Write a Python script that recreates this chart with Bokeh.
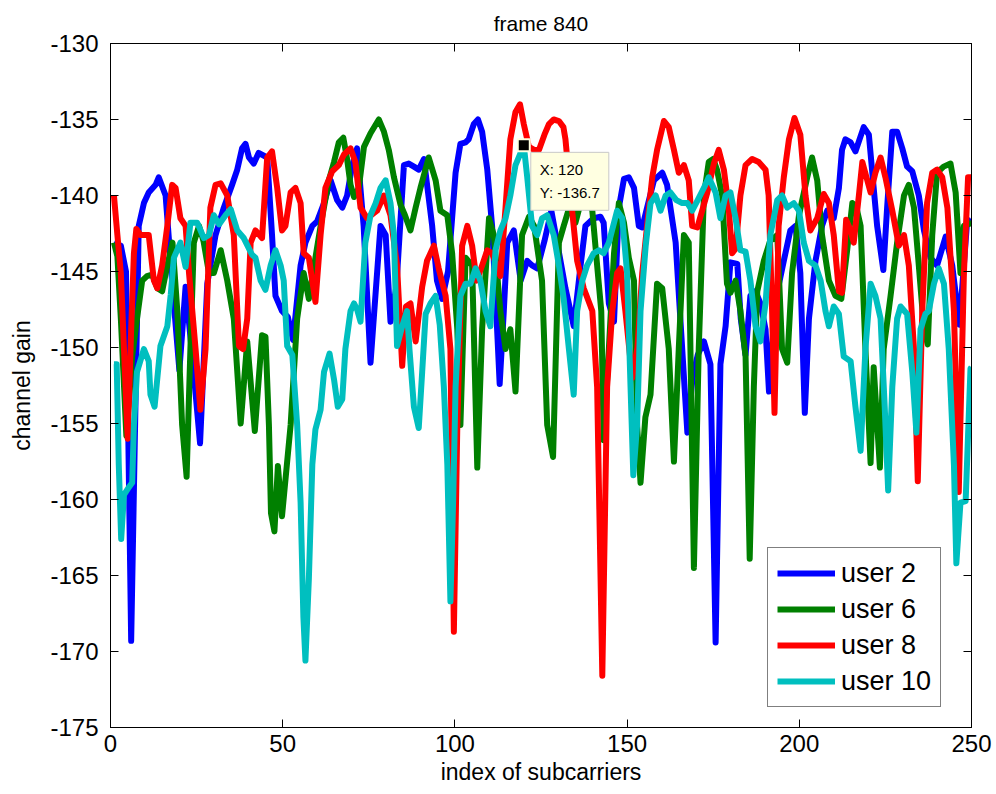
from bokeh.plotting import figure
from bokeh.models import (ColumnDataSource, FixedTicker, LinearAxis, Label, Range1d, CustomJSTickFormatter)
from bokeh.embed import file_html
from bokeh.resources import INLINE

# ---------------- data ----------------
title_text = "frame 840"
x_label = "index of subcarriers"
y_label = "channel gain"
x_ticks = [0, 50, 100, 150, 200, 250]
y_ticks = [-175, -170, -165, -160, -155, -150, -145, -140, -135, -130]

series_names = ["user 2", "user 6", "user 8", "user 10"]
series_colors = ["#0000FF", "#008000", "#FF0000", "#00BFBF"]

user2 = [(1,-143.1),(3,-143.3),(4.5,-145),(6,-169.3),(8.2,-142),(9.7,-140.5),(11.1,-139.8),(13.1,-139.3),
         (14,-138.8),(16,-140),(18,-146),(20,-151.5),(21.8,-146),(23.5,-150),(26,-156.3),(28.1,-145.8),
         (30.5,-142.6),(32.9,-140.8),(35.3,-139.3),(36.8,-138.3),(38.2,-136.9),(39.2,-136.6),(40.2,-137.5),
         (41.6,-137.9),(43,-137.2),(45.5,-137.5),(46.9,-142.6),(47.9,-146.6),(49.8,-147.6),(51.5,-148),
         (53,-149.5),(55.2,-144.6),(56.6,-143.1),(58.6,-142),(60,-141.7),(62,-140.5),(63.9,-139),(65.8,-140.3),
         (67.3,-140.8),(68.7,-140),(70.2,-138),(71.6,-136.9),(73.5,-142),(75.5,-151),(78.4,-142),(79.9,-142.6),
         (81.3,-148.3),(83,-146),(85.2,-138),(86.6,-137.9),(88.1,-138.1),(89.5,-138.3),(91,-137.6),(93.4,-142),
         (94.8,-145.6),(96.3,-146.8),(98,-145),(100.2,-138.5),(101.6,-136.6),(103.1,-136.5),(104,-136.3),
         (105.5,-135.3),(106.7,-135),(107.9,-135.8),(109.4,-138.3),(110.8,-142),(111.8,-146.6),(113,-152.4),
         (114.2,-147.6),(115.2,-143.1),(117.1,-142.3),(119.1,-145.6),(121,-144.3),(122.4,-144.6),(123.9,-144.8),
         (126,-143),(128,-141),(129.7,-143.1),(132.1,-146.1),(134.5,-148.6),(136.5,-144.6),(137.9,-142),
         (140.3,-141.5),(142.3,-141.4),(143.2,-141.8),(144.7,-147.1),(146.2,-148.3),(147.6,-140.8),(149.1,-138.9),
         (150.5,-138.8),(152,-139.5),(153.4,-142),(154.4,-142.1),(155.8,-140.8),(157.8,-139),(160.2,-138.5),
         (161.6,-139.3),(164.1,-143.1),(166,-150.1),(167.5,-155.6),(169,-152),(170.5,-150.5),(172.3,-149.6),
         (174.2,-151.1),(175.7,-169.4),(177.1,-151.1),(178.6,-148.6),(180,-144.4),(182,-144.5),(183,-148.1),
         (184.4,-150.5),(185.8,-146.6),(187.3,-146.3),(188.7,-147.1),(190.2,-148.8),(191.2,-152.9),(193,-147),
         (195.5,-144.3),(197.4,-142.3),(198.9,-142),(200.3,-145.1),(201.6,-154.3),(202.8,-148.1),(204.7,-144.3),
         (206.6,-142),(208.1,-141),(210,-141.5),(211.5,-139.5),(212.4,-137),(213.4,-136.3),(214.9,-136.5),
         (216.3,-137.1),(218.7,-135.5),(220.2,-136),(222.6,-142),(224.4,-144.9),(225.5,-140.8),(227,-135.8),
         (228.4,-135.8),(229.9,-136.9),(231.3,-138.1),(232.8,-138.4),(234.7,-140),(236.2,-142.3),(238.1,-144.1),
         (240,-144.6),(242.5,-142.7),(244.4,-144.6),(246.5,-148.5),(248.7,-141.8),(250,-141.6)]

user6 = [(1,-143.1),(2,-144),(3,-148.1),(4.6,-155.8),(6.3,-150.6),(7.7,-148.1),(9.2,-145.6),(10.6,-145.3),
         (12.1,-145.2),(13.6,-146.1),(15,-146.3),(16.5,-144.6),(18,-143.1),(19.4,-147.6),(20.8,-155.1),
         (22.1,-158.5),(23.2,-150.1),(24.2,-143.1),(25.7,-142),(27,-143),(28.6,-145.1),(30,-145.1),(32,-143.6),
         (33.9,-145.6),(35.8,-148.1),(37.8,-155),(39.7,-149.6),(41.9,-155.5),(44,-149.2),(45,-149.3),(46,-155.1),
         (46.6,-160.9),(47.6,-162.1),(48.6,-157.8),(49.8,-161.1),(52.3,-155.1),(54.2,-148.1),(56.1,-145.1),
         (57.6,-146.8),(59,-144.8),(61,-142),(63.4,-139),(64.9,-137.8),(66.3,-136.5),(67.6,-136.2),(68.7,-137.6),
         (69.7,-139.3),(70.7,-140.1),(72.1,-139.5),(73.6,-136.8),(75.5,-135.9),(77.9,-135),(79.4,-135.8),
         (80.8,-137),(82.3,-138.8),(84.2,-140.6),(85.5,-141.3),(87.1,-142.3),(88.6,-140.8),(90,-139.5),
         (92.4,-137.5),(94.4,-139),(95.8,-141),(97.8,-141.3),(99.2,-143.8),(100.7,-148.8),(101.6,-155.1),
         (103.1,-144.1),(105,-144.6),(106.5,-157.9),(107.9,-148.8),(109.9,-141.5),(111.3,-142.6),(113.2,-147.6),
         (114.7,-150.1),(116.1,-148.8),(117.6,-152.9),(119.5,-142.6),(121.5,-141.4),(123,-142),(125.3,-145.6),
         (126.8,-155.1),(128.5,-157.2),(130.2,-143.1),(131.6,-142),(133.6,-140.5),(135,-141.8),(136.5,-140.5),
         (138.4,-140.3),(139.9,-141),(141.3,-144.6),(142.5,-147.6),(143.2,-156.1),(144.7,-150.1),(146.2,-143.8),
         (147.6,-140.5),(149.1,-141.8),(150.5,-144.1),(152,-145.6),(152.9,-155.1),(153.9,-158.9),(155.3,-154.6),
         (156.8,-153.1),(158.7,-145.8),(160.2,-146.1),(162.1,-150.1),(163.6,-157.5),(165,-150.1),(166.5,-142.6),
         (167.9,-143.1),(169.4,-164.5),(170.8,-150.1),(172.3,-140),(173.7,-137.8),(175,-137.6),(176.1,-138.3),
         (177.6,-140),(179,-145.8),(180,-146.4),(181.5,-145.6),(182.9,-147.6),(184.4,-150.6),(185.6,-163.9),
         (186.8,-152.6),(187.8,-146.3),(189.7,-144.3),(191.5,-143),(193.6,-142.6),(195,-150.1),(196.5,-151),
         (197.9,-145.1),(199.9,-141.3),(202.3,-138.8),(203.7,-137.5),(205.2,-139),(206.6,-142.6),(208.6,-145.6),
         (210.5,-146.6),(212.2,-146.8),(213.9,-143.6),(215.4,-140.5),(216.5,-140.7),(217.8,-142),(219.2,-150.1),
         (220.7,-157.6),(221.6,-151.3),(223.4,-157.9),(224.5,-150.1),(226.5,-146.6),(228.4,-143.1),(230.4,-140),
         (231.8,-139.3),(233.3,-140.8),(234.7,-144.6),(236.2,-148.8),(237.3,-149.8),(238.6,-142.6),(240,-138.5),
         (241.9,-138.1),(243.9,-137.9),(245.4,-139.8),(246.8,-145.1),(247.8,-142),(250,-141.8)]

user8 = [(1,-140),(2,-142.6),(3,-145.1),(5,-156),(6,-148.8),(6.8,-143.8),(7.5,-142.2),(8.7,-142.6),(11.1,-142.6),
         (12.6,-145.6),(13.6,-146.1),(15,-144.6),(16.5,-142),(17.9,-139.3),(18.9,-139.5),(20.3,-141.5),(21.8,-142),
         (22.8,-145.1),(24.7,-150.1),(26.1,-154.1),(27.6,-150.1),(29,-140.8),(30.5,-139.3),(32,-139.2),(33.9,-140),
         (35.8,-142.6),(37.3,-149.9),(38.5,-150.1),(39.7,-148.1),(40.7,-143.1),(42.1,-142.3),(44,-142.8),
         (45.5,-137.5),(46.9,-137.1),(48.4,-139.5),(49.8,-142.3),(50.8,-142),(52.3,-139.8),(53.7,-139.5),
         (55.2,-140.5),(56.1,-143.8),(57.6,-144.1),(59.5,-147),(61,-142.6),(62.4,-139.5),(64.4,-138.4),(66.3,-138),
         (67.8,-137.3),(69.7,-136.9),(71.1,-137.8),(72.6,-140.8),(74.5,-141.5),(77.4,-141),(79.4,-140),(81.3,-141.3),
         (83.2,-144.6),(84.7,-151.2),(85.8,-147.3),(87.1,-147.1),(88.6,-149.6),(90.5,-146),(91.9,-144.3),
         (93.9,-143.3),(95.3,-144.8),(97.3,-146.6),(98.7,-150.1),(99.7,-168.7),(100.7,-155.1),(102.1,-143.3),
         (103.6,-142),(105,-143.3),(106.3,-145.6),(107.9,-144.6),(109.4,-143.6),(110.8,-143.8),(113.2,-145.3),
         (114.7,-140.8),(116.1,-136.3),(117.6,-134.5),(118.9,-134),(120,-135.3),(121.5,-136.8),(123,-137),
         (124.4,-137),(126,-136),(127.3,-135.3),(128.7,-135),(130.2,-135.1),(131.5,-135.5),(132.1,-136.3),
         (133.6,-140),(135.5,-144.3),(137.4,-146.1),(139.9,-147.6),(141.3,-152.6),(142.8,-171.6),(144.2,-152.6),
         (145.7,-147.6),(147.1,-145.1),(148.1,-144.8),(149.5,-147.6),(151.5,-152),(153,-150),(154.4,-145.1),
         (155.8,-142),(157.3,-138.8),(158.7,-137),(160.7,-135.1),(162.1,-135.5),(163.6,-137),(165,-138.5),
         (166.5,-138),(167.9,-139),(168.9,-142),(170.4,-142.1),(171.8,-141),(173.3,-139.8),(175.2,-137.9),
         (176.6,-137),(178.1,-138.3),(179.5,-140.8),(180.5,-143.8),(181.5,-143.5),(182.9,-140),(184.4,-138),
         (186.3,-137.6),(188.2,-137.8),(190.2,-138.3),(191.1,-140),(192.1,-147.6),(192.8,-154.3),(194,-142),
         (195.5,-138.8),(197,-136.3),(198.6,-134.9),(200.3,-136),(201.8,-140),(203.2,-142.3),(205.2,-141.5),
         (207.1,-139.9),(208.6,-140.5),(210,-142.6),(211.5,-146.3),(212.4,-146.4),(213.6,-141.6),(214.9,-142.3),
         (215.8,-143.1),(217.3,-140),(218.3,-137.8),(220.7,-139.8),(222.1,-138.5),(223.6,-137.5),(225,-138.8),
         (227,-141),(228.9,-143.3),(230.4,-142.6),(231.8,-144.6),(233.3,-150.1),(234.4,-158.8),(235.7,-147.6),
         (237.1,-140.5),(238.6,-138.5),(240,-138.3),(241.5,-138.8),(243,-140.8),(244.9,-147.6),(246.3,-159.5),
         (247.8,-145.1),(249,-138.8),(250,-138.8)]

user10 = [(1,-151.1),(1.8,-151.1),(2.4,-157.7),(3.1,-162.6),(3.9,-159.7),(5.3,-159.2),(6.3,-158.9),(6.8,-155.1),
          (7.7,-151.6),(9.7,-150.1),(11.1,-150.9),(11.6,-153.1),(12.8,-153.9),(14.5,-149.9),(16.5,-148.6),
          (17.5,-146.5),(18.4,-144.1),(20.3,-143.1),(21.8,-144.7),(23.2,-141.8),(25.2,-141.8),(27.1,-142.8),
          (28.6,-142.6),(30,-141.3),(31.5,-141.9),(33.4,-141.3),(34.9,-140.9),(36.8,-142.3),(38.7,-142.8),
          (41.1,-143.9),(42.1,-144.1),(43.6,-145.6),(45,-146.2),(46.5,-144.6),(47.9,-143.6),(49.4,-144.6),
          (50.3,-145.6),(51.3,-149.9),(52.8,-150.5),(54.2,-155.1),(55.2,-160.2),(56,-167.7),(56.6,-170.6),
          (57.6,-165.2),(58.6,-157.7),(59.5,-155.4),(61,-154.1),(62,-151.6),(63.6,-150.4),(64.9,-152.1),(66,-153.9),
          (67.3,-153.4),(68.2,-150.1),(69.7,-147.6),(70.7,-147.1),(71.6,-147.5),(72.6,-148.3),(74,-143.1),
          (75.5,-141.3),(77,-140.5),(78.4,-139.5),(79.9,-139),(81.3,-140.5),(82.3,-142.6),(83.2,-149.9),
          (84.7,-148.6),(86.1,-147.6),(86.8,-150.1),(88.1,-153.9),(89.5,-155.3),(90.5,-151.6),(91.5,-147.8),
          (92.9,-147.1),(94.4,-146.6),(95.6,-148.5),(96.8,-152.6),(97.8,-157.7),(98.7,-166.7),(99.5,-160),
          (100.2,-152.6),(101.6,-146.6),(103.1,-145.8),(104.5,-145.8),(106,-144.8),(107.4,-145.6),(108.9,-147.6),
          (110.3,-148.6),(111.8,-143.6),(113.2,-142.3),(114.7,-141.5),(116.1,-140),(117.6,-138),(120,-136.7),
          (121,-138.8),(122.4,-142),(123.9,-142.6),(125.3,-141.5),(126.8,-141.3),(128.7,-142.6),(130.2,-144.6),
          (131.6,-146.8),(133.1,-150.1),(134.5,-153.1),(135.5,-147.6),(137,-145.6),(138.4,-144.6),(140.3,-143.8),
          (141.8,-143.6),(143.2,-143.8),(144.7,-143.1),(146.2,-141.8),(147.1,-141),(148.6,-141.5),(150,-145.1),
          (151,-152.6),(151.8,-158.4),(152.9,-155.1),(153.9,-147.6),(155.4,-143.3),(156.8,-140.5),(158.3,-140),
          (159.7,-141),(161.2,-140),(162.6,-139.8),(164.3,-140.3),(166,-140.5),(167.5,-140.5),(168.9,-141),
          (170.5,-140.3),(172.3,-139.5),(173.7,-138.8),(175.7,-139.8),(177.1,-141.5),(178.6,-140),(180,-139.8),
          (181.5,-141.5),(182.9,-143.6),(184.4,-143.7),(185.8,-145.6),(187.3,-148.6),(188.7,-149.6),(190.2,-147.1),
          (191.6,-142.6),(193.6,-140.3),(195,-140),(196.5,-140.8),(198.4,-140.5),(199.9,-141),(201.3,-143.1),
          (202.8,-144.3),(204.7,-144.6),(206.2,-145.6),(207.6,-147.6),(208.6,-148.6),(210,-147.3),(211.5,-147.8),
          (212.9,-150.6),(214.9,-150.9),(216.3,-153.9),(217.8,-156.8),(219.2,-150.1),(220.7,-145.8),(222.1,-146.6),
          (223.6,-148.1),(224.8,-153.9),(225.8,-159.4),(227,-152.6),(228.4,-148.1),(229.4,-147.3),(231.3,-147.8),
          (232.8,-151.6),(234,-155.6),(235.2,-148.8),(236.6,-147.8),(237.6,-147.6),(239.1,-145.8),(240.5,-144.8),
          (242,-145.8),(243.4,-150.1),(244.9,-157.7),(245.6,-164.2),(246.8,-160.2),(248.3,-160.1),(249.7,-151.4),
          (250,-151.3)]

tip_x = 120
tip_y = -136.7
tip_text = "X: 120\nY: -136.7"

# ---------------- figure ----------------
FONT = "Liberation Sans"

p = figure(width=996, height=794, x_range=Range1d(x_ticks[0], x_ticks[-1]),
           y_range=Range1d(y_ticks[0], y_ticks[-1]), title=title_text,
           output_backend="svg", toolbar_location=None,
           min_border_left=110, min_border_right=25, min_border_top=43, min_border_bottom=67)
p.background_fill_color = "white"
p.border_fill_color = "white"
p.outline_line_color = "black"
p.outline_line_width = 1
p.grid.visible = False

p.title.align = "center"
p.title.text_font = FONT
p.title.text_font_size = "21px"
p.title.text_font_style = "normal"
p.title.text_color = "black"
p.title.standoff = 18

def style_axis(ax):
    ax.axis_line_color = "black"
    ax.major_tick_in = 8
    ax.major_tick_out = 0
    ax.minor_tick_in = 0
    ax.minor_tick_out = 0
    ax.major_tick_line_color = "black"
    ax.major_label_text_font = FONT
    ax.major_label_text_color = "black"
    ax.major_label_text_font_size = "24px"

xax = p.xaxis[0]
yax = p.yaxis[0]
xax.ticker = FixedTicker(ticks=x_ticks)
yax.ticker = FixedTicker(ticks=y_ticks)
style_axis(xax)
style_axis(yax)
xax.major_label_overrides = {t: str(t) for t in x_ticks}
yax.major_label_overrides = {t: str(t) for t in y_ticks}
xax.major_label_standoff = 7
yax.major_label_standoff = 12
xax.axis_label = x_label
yax.axis_label = y_label
for ax in (xax, yax):
    ax.axis_label_text_font = FONT
    ax.axis_label_text_font_size = "23px"
    ax.axis_label_text_font_style = "normal"
    ax.axis_label_text_color = "black"
xax.axis_label_standoff = 4
yax.axis_label_standoff = 12

# box ticks on top / right, without labels
top_ax = LinearAxis(ticker=FixedTicker(ticks=x_ticks))
right_ax = LinearAxis(ticker=FixedTicker(ticks=y_ticks))
for ax in (top_ax, right_ax):
    style_axis(ax)
    ax.formatter = CustomJSTickFormatter(code="return ''")
    ax.major_label_standoff = 0
p.add_layout(top_ax, "above")
p.add_layout(right_ax, "right")

series = [user2, user6, user8, user10]
for name, color, pts in zip(series_names, series_colors, series):
    src = ColumnDataSource(data=dict(x=[a for a, b in pts], y=[b for a, b in pts]))
    p.line("x", "y", source=src, line_color=color, line_width=6, line_join="round",
           legend_label=name)

# data tip
tip_src = ColumnDataSource(data=dict(x=[tip_x], y=[tip_y]))
p.scatter("x", "y", source=tip_src, marker="square", size=12, fill_color="black",
          line_color="#FFFFE1", line_width=2)
tip = Label(x=tip_x, y=tip_y, text=tip_text, x_offset=7, y_offset=-7, anchor="top_left",
            text_font=FONT, text_font_size="15px", text_color="black", text_line_height=1.35,
            background_fill_color="#FFFFE1", border_line_color="#C8C8C8", border_line_width=1,
            padding=9)
p.add_layout(tip)

lg = p.legend[0]
lg.location = (657, 20)
lg.border_line_color = "black"
lg.border_line_width = 1
lg.background_fill_color = "white"
lg.background_fill_alpha = 1
lg.label_text_font = FONT
lg.label_text_font_size = "27px"
lg.label_text_color = "black"
lg.glyph_width = 58
lg.glyph_height = 32
lg.label_height = 32
lg.spacing = 4
lg.padding = 9
lg.margin = 0
lg.label_standoff = 6

open("out.html", "w").write(file_html(p, INLINE))
